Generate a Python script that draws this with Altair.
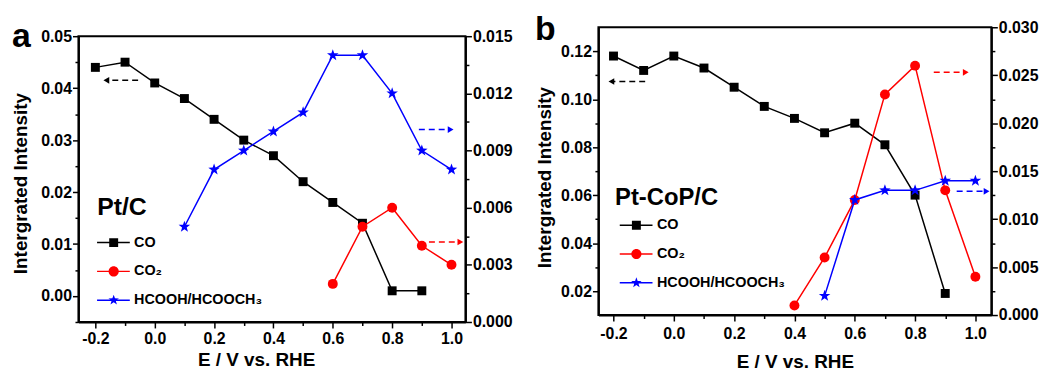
import math
import altair as alt
import pandas as pd

FONT = "Liberation Sans"

series_names = ["CO", "CO₂", "HCOOH/HCOOCH₃"]
series_colors = ["#000000", "#ff0000", "#0000ff"]

# ---------------- panel a (Pt/C) ----------------
a_co_x = [-0.2, -0.1, 0.0, 0.1, 0.2, 0.3, 0.4, 0.5, 0.6, 0.7, 0.8, 0.9]
a_co_y = [0.044, 0.045, 0.041, 0.038, 0.034, 0.030, 0.027, 0.022, 0.018, 0.014, 0.001, 0.001]
a_co2_x = [0.6, 0.7, 0.8, 0.9, 1.0]
a_co2_y = [0.002, 0.005, 0.006, 0.004, 0.003]
a_hc_x = [0.1, 0.2, 0.3, 0.4, 0.5, 0.6, 0.7, 0.8, 0.9, 1.0]
a_hc_y = [0.005, 0.008, 0.009, 0.010, 0.011, 0.014, 0.014, 0.012, 0.009, 0.008]
a_arrow_x1 = [-0.056, 0.89, 0.924]
a_arrow_x2 = [-0.163, 0.997, 1.03]
a_arrow_y = [0.0415, 0.0101, 0.0042]
a_arrow_series = ["CO", "HCOOH/HCOOCH₃", "CO₂"]
a_tag = "Pt/C"
a_tag_x = -0.194
a_tag_y = 0.0155
a_letter = "a"
a_x_domain = [-0.257, 1.047]
a_left_domain = [-0.005, 0.05]
a_right_domain = [0.0, 0.015]
a_left_major = [0.0, 0.01, 0.02, 0.03, 0.04, 0.05]
a_left_minor = [-0.005, 0.005, 0.015, 0.025, 0.035, 0.045]
a_right_major = [0.0, 0.003, 0.006, 0.009, 0.012, 0.015]
a_right_minor = [0.0015, 0.0045, 0.0075, 0.0105, 0.0135]

# ---------------- panel b (Pt-CoP/C) ----------------
b_co_x = [-0.2, -0.1, 0.0, 0.1, 0.2, 0.3, 0.4, 0.5, 0.6, 0.7, 0.8, 0.9]
b_co_y = [0.118, 0.112, 0.118, 0.113, 0.105, 0.097, 0.092, 0.086, 0.090, 0.081, 0.060, 0.019]
b_co2_x = [0.4, 0.5, 0.6, 0.7, 0.8, 0.9, 1.0]
b_co2_y = [0.001, 0.006, 0.012, 0.023, 0.026, 0.013, 0.004]
b_hc_x = [0.5, 0.6, 0.7, 0.8, 0.9, 1.0]
b_hc_y = [0.002, 0.012, 0.013, 0.013, 0.014, 0.014]
b_arrow_x1 = [-0.095, 0.862, 0.938]
b_arrow_x2 = [-0.207, 0.968, 1.037]
b_arrow_y = [0.1074, 0.0253, 0.0129]
b_arrow_series = ["CO", "CO₂", "HCOOH/HCOOCH₃"]
b_tag = "Pt-CoP/C"
b_tag_x = -0.195
b_tag_y = 0.0557
b_letter = "b"
b_x_domain = [-0.25, 1.053]
b_left_domain = [0.01, 0.13]
b_right_domain = [0.0, 0.03]
b_left_major = [0.02, 0.04, 0.06, 0.08, 0.10, 0.12]
b_left_minor = [0.03, 0.05, 0.07, 0.09, 0.11]
b_right_major = [0.0, 0.005, 0.010, 0.015, 0.020, 0.025, 0.030]
b_right_minor = [0.0025, 0.0075, 0.0125, 0.0175, 0.0225, 0.0275]

x_major = [-0.2, 0.0, 0.2, 0.4, 0.6, 0.8, 1.0]
x_minor = [-0.1, 0.1, 0.3, 0.5, 0.7, 0.9]

y_title = "Intergrated Intensity"
x_title = "E / V vs. RHE"


def star_path(ro, ri):
    pts = []
    for k in range(10):
        r = ro if k % 2 == 0 else ri
        ang = math.radians(-90 + 36 * k)
        pts.append((r * math.cos(ang), r * math.sin(ang)))
    return "M" + "L".join(f"{px:.3f},{py:.3f}" for px, py in pts) + "Z"


STAR = star_path(1.0, 0.4)
legend_shapes = [
    "M-0.75,-0.75H0.75V0.75H-0.75Z",
    "M0.85,0A0.85,0.85,0,1,1,-0.85,0A0.85,0.85,0,1,1,0.85,0Z",
    star_path(0.92, 0.37),
]
color_of = dict(zip(series_names, series_colors))
# keys for the legend's line strokes (a separate legend, so a separate domain)
line_keys = [n + " " for n in series_names]


def panel(co_x, co_y, co2_x, co2_y, hc_x, hc_y, ax1, ax2, ay, aser, tag, tag_x, tag_y,
          letter, xdom, ldom, rdom, lmaj, lmin, rmaj, rmin, w, h,
          letter_x, letter_y, tag_size, leg_cx, leg_y, lab_off, y_tpad, x_lpad, x_tpad,
          x_title_x, y_title_y):
    xs = alt.Scale(domain=xdom, nice=False, zero=False)
    ls = alt.Scale(domain=ldom, nice=False, zero=False)
    rs = alt.Scale(domain=rdom, nice=False, zero=False)

    def X(axis=None, field="x:Q"):
        return alt.X(field, scale=xs, axis=axis)

    x_major_axis = alt.Axis(
        orient="bottom", values=x_major, title=x_title, tickSize=6, labelPadding=x_lpad,
        titlePadding=x_tpad, titleX=x_title_x, titleAlign="center",
        labelExpr="datum.value < 0 ? '-' + format(-datum.value, '.1f') : format(datum.value, '.1f')")
    x_minor_axis = alt.Axis(orient="bottom", values=x_minor, labels=False, tickSize=3.5,
                            domain=False, title=None)
    l_major_axis = alt.Axis(orient="left", values=lmaj, format=".2f", title=y_title,
                            tickSize=6, labelPadding=1, titlePadding=y_tpad, titleY=y_title_y)
    l_minor_axis = alt.Axis(orient="left", values=lmin, labels=False, tickSize=3.5,
                            domain=False, title=None)
    r_major_axis = alt.Axis(orient="right", values=rmaj, format=".3f", title=None,
                            tickSize=6, labelPadding=1)
    r_minor_axis = alt.Axis(orient="right", values=rmin, labels=False, tickSize=3.5,
                            domain=False, title=None)

    co = pd.DataFrame({"x": co_x, "y": co_y})
    co2 = pd.DataFrame({"x": co2_x, "y": co2_y})
    hc = pd.DataFrame({"x": hc_x, "y": hc_y})

    layers = [
        alt.Chart(co).mark_line(color="black", strokeWidth=1.5).encode(
            x=X(x_major_axis), y=alt.Y("y:Q", scale=ls, axis=l_major_axis)),
        alt.Chart(co).mark_point(shape="square", filled=True, size=81, color="black", opacity=1).encode(
            x=X(x_minor_axis), y=alt.Y("y:Q", scale=ls, axis=l_minor_axis)),
        alt.Chart(co2).mark_line(color="#ff0000", strokeWidth=1.5).encode(
            x=X(), y=alt.Y("y:Q", scale=rs, axis=r_major_axis)),
        alt.Chart(co2).mark_point(shape="circle", filled=True, size=100, color="#ff0000", opacity=1).encode(
            x=X(), y=alt.Y("y:Q", scale=rs, axis=r_minor_axis)),
        alt.Chart(hc).mark_line(color="#0000ff", strokeWidth=1.5).encode(
            x=X(), y=alt.Y("y:Q", scale=rs, axis=None)),
        alt.Chart(hc).mark_point(shape=STAR, filled=True, size=150, color="#0000ff", opacity=1).encode(
            x=X(), y=alt.Y("y:Q", scale=rs, axis=None)),
    ]

    for x1, x2, yv, s in zip(ax1, ax2, ay, aser):
        col = color_of[s]
        sc = ls if s == "CO" else rs
        df = pd.DataFrame({"x1": [x1], "x2": [x2], "y": [yv]})
        layers.append(
            alt.Chart(df).mark_rule(color=col, strokeWidth=1.5, strokeDash=[6, 4]).encode(
                x=X(field="x1:Q"), x2="x2:Q", y=alt.Y("y:Q", scale=sc, axis=None)))
        layers.append(
            alt.Chart(df).mark_point(shape="triangle-left" if x2 < x1 else "triangle-right",
                                     filled=True, size=45, color=col, opacity=1).encode(
                x=X(field="x2:Q"), y=alt.Y("y:Q", scale=sc, axis=None)))

    # sample name
    layers.append(
        alt.Chart(pd.DataFrame({"x": [tag_x], "y": [tag_y], "t": [tag]})).mark_text(
            align="left", baseline="alphabetic", font=FONT, fontSize=tag_size,
            fontWeight="bold", color="black").encode(
            x=X(), y=alt.Y("y:Q", scale=ls, axis=None), text="t:N"))

    # panel letter
    layers.append(
        alt.Chart(pd.DataFrame({"t": [letter]})).mark_text(
            align="left", baseline="alphabetic", font=FONT, fontSize=34,
            fontWeight="bold", color="black").encode(
            text="t:N", x=alt.value(letter_x), y=alt.value(letter_y)))

    # legend: line strokes (one legend, no labels) overlaid by markers + labels
    cs = alt.Scale(domain=series_names, range=series_colors)
    ss = alt.Scale(domain=series_names, range=legend_shapes)
    ls2 = alt.Scale(domain=line_keys, range=series_colors)
    common = dict(orient="none", legendY=leg_y, title=None, labelFont=FONT,
                  labelFontSize=14.5, labelFontWeight="bold", labelColor="black",
                  rowPadding=14, clipHeight=14, padding=0, labelLimit=400,
                  symbolStrokeWidth=1.5)
    mark_leg = alt.Legend(legendX=leg_cx - 6.75, symbolSize=144, labelOffset=lab_off, **common)
    line_leg = alt.Legend(legendX=leg_cx - 17.25, symbolSize=1089, symbolType="stroke",
                          labelOffset=0, labelExpr="''", **common)
    layers.append(
        alt.Chart(pd.DataFrame({"k": line_keys})).transform_filter("false").mark_line(
            strokeWidth=1.5).encode(
            stroke=alt.Stroke("k:N", scale=ls2, legend=line_leg)))
    layers.append(
        alt.Chart(pd.DataFrame({"s": series_names})).transform_filter("false").mark_point(
            filled=True, size=144, opacity=1).encode(
            color=alt.Color("s:N", scale=cs, legend=mark_leg),
            shape=alt.Shape("s:N", scale=ss, legend=mark_leg)))

    return alt.layer(*layers).resolve_scale(y="independent").resolve_axis(
        x="independent", y="independent").properties(width=w, height=h)


pa = panel(a_co_x, a_co_y, a_co2_x, a_co2_y, a_hc_x, a_hc_y,
           a_arrow_x1, a_arrow_x2, a_arrow_y, a_arrow_series, a_tag, a_tag_x, a_tag_y,
           a_letter, a_x_domain, a_left_domain, a_right_domain,
           a_left_major, a_left_minor, a_right_major, a_right_minor, 390, 288,
           -67, 11, 25, 35, 210, 13.25, 10, 3, 4, 179, 148)
pb = panel(b_co_x, b_co_y, b_co2_x, b_co2_y, b_hc_x, b_hc_y,
           b_arrow_x1, b_arrow_x2, b_arrow_y, b_arrow_series, b_tag, b_tag_x, b_tag_y,
           b_letter, b_x_domain, b_left_domain, b_right_domain,
           b_left_major, b_left_minor, b_right_major, b_right_minor, 396, 290,
           -64, 13, 24, 37.75, 192.5, 13.5, 6, 5, 11, 198, 151)

# panel a sits a little lower than panel b in the figure
blank = alt.Chart(pd.DataFrame({"t": [""]})).mark_text().encode(text="t:N").properties(
    width=390, height=9, view={"stroke": "transparent"})
left = alt.vconcat(blank, pa, spacing=0, bounds="flush")

chart = alt.hconcat(left, pb, spacing=20).resolve_scale(
    color="independent", stroke="independent", shape="independent"
).properties(
    padding={"left": 2, "top": 3, "right": 0, "bottom": 0}
).configure_axis(
    labelFont=FONT, labelFontSize=16, labelFontWeight="bold", labelColor="black",
    titleFont=FONT, titleFontSize=19, titleFontWeight="bold", titleColor="black",
    domainColor="black", domainWidth=2, tickColor="black", tickWidth=1.5, grid=False
).configure_view(stroke="black", strokeWidth=2)

chart.save("out.html", embed_options={"renderer": "svg", "actions": False})
